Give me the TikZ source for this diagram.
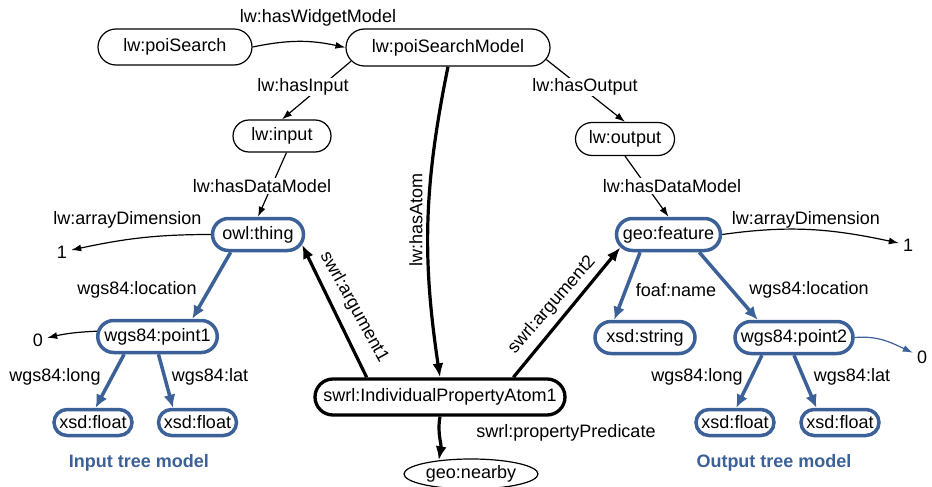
\documentclass[tikz,border=0pt]{standalone}
\usepackage{fontspec}
\setmainfont{Liberation Sans}
\usetikzlibrary{arrows.meta,shapes.geometric,shapes.misc}
\definecolor{treeblue}{RGB}{60,96,152}
\begin{document}
\begin{tikzpicture}[x=1pt,y=1pt,
  every node/.style={font=\fontsize{18}{21}\selectfont},
  term/.style={rounded rectangle, draw=black, line width=1.2pt, inner xsep=3pt, inner ysep=0pt},
  bnode/.style={rounded rectangle, draw=treeblue, line width=3.5pt, inner xsep=3pt, inner ysep=0pt},
  anode/.style={rounded rectangle, draw=black, line width=3.3pt, inner xsep=3pt, inner ysep=0pt},
  freeend/.style={inner sep=4pt},
  elabel/.style={inner sep=1pt},
  onedge/.style={inner sep=1pt, fill=white},
  treelabel/.style={text=treeblue, font=\fontsize{18}{21}\selectfont\bfseries},
  thinarr/.style={draw=black, line width=1.2pt, -{Latex[length=10pt,width=7pt]}},
  thinblue/.style={draw=treeblue, line width=1.2pt, -{Latex[length=10pt,width=7pt]}},
  thickarr/.style={draw=black, line width=3.2pt, -{Latex[length=14pt,width=11pt]}},
  bluearr/.style={draw=treeblue, line width=3.5pt, -{Latex[length=13pt,width=12pt]}}
]
\useasboundingbox (0,0) rectangle (932,-487);

% widget model and its input / output
\node[term, minimum width=160, minimum height=36] (ps) at (175,-47) {lw:poiSearch};
\node[term, minimum width=210, minimum height=37] (psm) at (448,-47.5) {lw:poiSearchModel};
\node[term, minimum width=104, minimum height=32] (inp) at (282,-136) {lw:input};
\node[term, minimum width=105, minimum height=33] (outp) at (625,-139) {lw:output};

% input tree
\node[bnode, minimum width=97, minimum height=32] (owl) at (258,-234.5) {owl:thing};
\node[bnode, minimum width=125.5, minimum height=32] (pt1) at (157.5,-336.5) {wgs84:point1};
\node[bnode, minimum width=84, minimum height=26] (fl1) at (93,-422.5) {xsd:float};
\node[bnode, minimum width=84, minimum height=26] (fl2) at (197.5,-422.5) {xsd:float};
\node[freeend] (one1) at (62,-252) {1};
\node[freeend] (zero1) at (38,-340) {0};

% output tree
\node[bnode, minimum width=110, minimum height=32] (geo) at (668.5,-234.5) {geo:feature};
\node[bnode, minimum width=106, minimum height=32] (str) at (645,-337.5) {xsd:string};
\node[bnode, minimum width=124, minimum height=32] (pt2) at (794,-337.5) {wgs84:point2};
\node[bnode, minimum width=84, minimum height=26] (fr1) at (735,-422.5) {xsd:float};
\node[bnode, minimum width=84, minimum height=26] (fr2) at (840,-422.5) {xsd:float};
\node[freeend] (one2) at (908,-245) {1};
\node[freeend] (zero2) at (922,-357) {0};

% the SWRL atom
\node[anode, minimum width=256, minimum height=36] (atom) at (440,-397) {swrl:IndividualPropertyAtom1};
\node[ellipse, draw=black, line width=1.2pt, inner sep=0pt, minimum width=134, minimum height=30] (nearby) at (471,-474) {geo:nearby};

% connectors
\draw[thinarr] (ps.east) to[bend left=12] (psm.west);
\draw[thinarr] (psm.188) -- (inp.north);
\draw[thinarr] (psm.-7) -- (outp.north);
\draw[thickarr] (psm.south) to[bend right=10] (atom.north);
\draw[thinarr] (inp.-75) -- (owl.north);
\draw[thinarr] (outp.south) -- (geo.north);

\draw[thinarr] (owl.west) to[out=180,in=12] (one1);
\draw[bluearr] (owl.213) -- (pt1.27);
\draw[thinarr] (pt1.175) to[bend right=5] (zero1);
\draw[bluearr] (pt1.208) -- (fl1.80);
\draw[bluearr] (pt1.-87) -- (fl2.149);

\draw[thinarr] (geo.east) to[out=8,in=168] (one2);
\draw[bluearr] (geo.212) -- (str.150);
\draw[bluearr] (geo.-30) -- (pt2.154);
\draw[thinblue] (pt2.east) to[out=5,in=155] (zero2);
\draw[bluearr] (pt2.209) -- (fr1.85);
\draw[bluearr] (pt2.south) -- (fr2.148);

\draw[thickarr] (atom.165) -- (owl.-13);
\draw[thickarr] (atom.15) -- (geo.195);
\draw[thickarr] (atom.south) to[out=-100,in=80] (nearby.157);

% property labels
\node[elabel] (lWidget) at (318,-18) {lw:hasWidgetModel};
\node[onedge] (lInput) at (303,-87) {lw:hasInput};
\node[onedge] (lOutput) at (585,-87) {lw:hasOutput};
\node[onedge] (lDataL) at (262,-186) {lw:hasDataModel};
\node[onedge] (lDataR) at (672,-186) {lw:hasDataModel};
\node[elabel] (lDimL) at (127.5,-220) {lw:arrayDimension};
\node[elabel] (lDimR) at (806,-220) {lw:arrayDimension};
\node[elabel] (lLocL) at (137,-290) {wgs84:location};
\node[elabel] (lLongL) at (55,-377) {wgs84:long};
\node[elabel] (lLatL) at (210,-377) {wgs84:lat};
\node[elabel] (lName) at (676,-290) {foaf:name};
\node[elabel] (lLocR) at (809,-290) {wgs84:location};
\node[elabel] (lLongR) at (697,-377) {wgs84:long};
\node[elabel] (lLatR) at (852,-377) {wgs84:lat};
\node[elabel, rotate=90] (lAtom) at (416,-220) {lw:hasAtom};
\node[elabel, rotate=-61] (lArg1) at (354,-307) {swrl:argument1};
\node[elabel, rotate=49] (lArg2) at (552,-305) {swrl:argument2};
\node[elabel] (lPred) at (566,-433) {swrl:propertyPredicate};

% tree captions
\node[treelabel] (inTree) at (139,-463) {Input tree model};
\node[treelabel] (outTree) at (774,-463) {Output tree model};
\end{tikzpicture}
\end{document}
